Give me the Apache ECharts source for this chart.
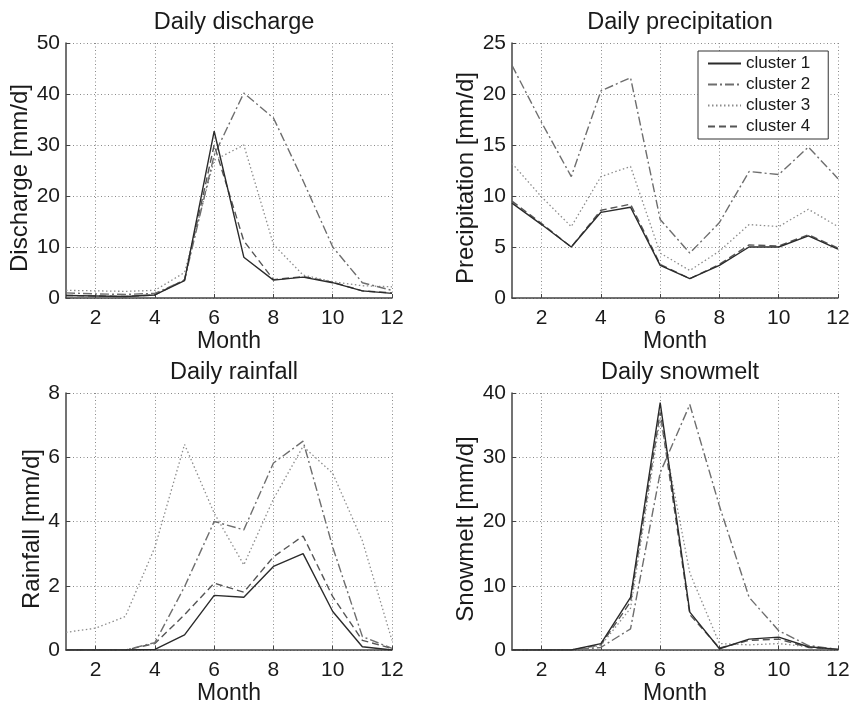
<!DOCTYPE html>
<html>
<head>
<meta charset="utf-8">
<script src="https://cdn.jsdelivr.net/npm/echarts@6/dist/echarts.min.js"></script>
<style>
html, body { margin: 0; padding: 0; background: #fff; }
#main { width: 853px; height: 709px; }
</style>
</head>
<body>
<div id="main"></div>
<script>
var months = ['1', '2', '3', '4', '5', '6', '7', '8', '9', '10', '11', '12'];
var clusterNames = ['cluster 1', 'cluster 2', 'cluster 3', 'cluster 4'];

// Daily discharge [mm/d]
var dischargeC1 = [0.5, 0.4, 0.3, 0.6, 3.4, 32.7, 8.0, 3.5, 4.1, 3.0, 1.4, 0.9];
var dischargeC2 = [1.0, 0.8, 0.7, 0.9, 3.5, 28.0, 40.2, 35.3, 23.0, 10.0, 3.0, 1.5];
var dischargeC3 = [1.5, 1.4, 1.3, 1.5, 5.0, 27.0, 30.0, 10.5, 4.5, 3.2, 2.4, 2.2];
var dischargeC4 = [0.5, 0.4, 0.3, 0.6, 3.6, 30.0, 11.2, 3.6, 4.2, 3.1, 1.4, 1.0];

// Daily precipitation [mm/d]
var precipC1 = [9.3, 7.2, 5.0, 8.4, 8.9, 3.2, 1.9, 3.2, 5.0, 5.0, 6.1, 4.8];
var precipC2 = [22.8, 17.2, 11.9, 20.3, 21.6, 7.7, 4.4, 7.4, 12.4, 12.1, 14.8, 11.7];
var precipC3 = [13.2, 9.9, 7.0, 11.9, 12.9, 4.4, 2.7, 4.6, 7.2, 7.0, 8.7, 7.0];
var precipC4 = [9.5, 7.3, 5.0, 8.6, 9.2, 3.3, 1.9, 3.3, 5.2, 5.1, 6.2, 4.9];

// Daily rainfall [mm/d]
var rainC1 = [0, 0, 0, 0.02, 0.47, 1.7, 1.64, 2.6, 3.0, 1.2, 0.1, 0];
var rainC2 = [0, 0, 0, 0.23, 1.97, 4.0, 3.74, 5.82, 6.5, 3.2, 0.42, 0.05];
var rainC3 = [0.55, 0.68, 1.04, 3.2, 6.4, 4.26, 2.65, 4.7, 6.34, 5.5, 3.4, 0.3];
var rainC4 = [0, 0, 0, 0.2, 1.1, 2.08, 1.8, 2.9, 3.55, 1.66, 0.3, 0.05];

// Daily snowmelt [mm/d]
var meltC1 = [0, 0, 0, 1.0, 8.2, 38.5, 5.9, 0.2, 1.7, 2.0, 0.5, 0.1];
var meltC2 = [0, 0, 0, 0.4, 3.3, 27.6, 38.2, 22.4, 8.2, 3.0, 0.7, 0.1];
var meltC3 = [0, 0, 0, 0.7, 6.5, 36.0, 12.0, 1.0, 0.8, 1.0, 0.5, 0.1];
var meltC4 = [0, 0, 0, 0.8, 7.5, 37.0, 5.5, 0.3, 1.5, 1.7, 0.4, 0.1];

var font = 'Liberation Sans, Arial, Helvetica, sans-serif';
var txt = '#1a1a1a';

// line look per cluster: solid, dash-dot, dotted, dashed
var lineStyles = [
	{ color: '#2b2b2b', width: 1.4, type: 'solid' },
	{ color: '#6e6e6e', width: 1.4, type: [9, 3, 2, 3] },
	{ color: '#8c8c8c', width: 1.3, type: [1.5, 2.5] },
	{ color: '#555555', width: 1.4, type: [7, 4] }
];

var panels = [
	{ title: 'Daily discharge', yName: 'Discharge [mm/d]', max: 50, step: 10, gap: 28,
		data: [dischargeC1, dischargeC2, dischargeC3, dischargeC4] },
	{ title: 'Daily precipitation', yName: 'Precipitation [mm/d]', max: 25, step: 5, gap: 29,
		data: [precipC1, precipC2, precipC3, precipC4] },
	{ title: 'Daily rainfall', yName: 'Rainfall [mm/d]', max: 8, step: 2, gap: 18,
		data: [rainC1, rainC2, rainC3, rainC4] },
	{ title: 'Daily snowmelt', yName: 'Snowmelt [mm/d]', max: 40, step: 10, gap: 28,
		data: [meltC1, meltC2, meltC3, meltC4] }
];

var grids = [
	{ left: 66, top: 43, width: 326, height: 255 },
	{ left: 512, top: 43, width: 326, height: 255 },
	{ left: 66, top: 393, width: 326, height: 257 },
	{ left: 512, top: 393, width: 326, height: 257 }
];

function evenMonth(idx) {
	return (idx + 1) % 2 === 0;
}

var gridLine = { show: true, lineStyle: { color: '#8a8a8a', width: 1, type: [1, 2.5] } };
var axisLine = { show: true, lineStyle: { color: '#444', width: 1.5 } };

var titles = [], xAxes = [], yAxes = [], series = [];
for (var p = 0; p < panels.length; p++) {
	var g = grids[p];
	titles.push({
		text: panels[p].title,
		left: g.left + g.width / 2,
		top: g.top - 37,
		textAlign: 'center',
		textStyle: { fontFamily: font, fontSize: 23.5, fontWeight: 'normal', color: txt }
	});
	xAxes.push({
		gridIndex: p,
		type: 'category',
		data: months,
		boundaryGap: false,
		name: 'Month',
		nameLocation: 'middle',
		nameGap: 32,
		nameTextStyle: { fontFamily: font, fontSize: 23, color: txt },
		axisLine: axisLine,
		axisTick: { show: true, inside: true, length: 4, interval: function (i) { return evenMonth(i); },
			lineStyle: { color: '#444' } },
		axisLabel: { interval: function (i) { return evenMonth(i); }, margin: 10,
			fontFamily: font, fontSize: 21, color: txt },
		splitLine: { show: true, interval: function (i) { return evenMonth(i); }, lineStyle: gridLine.lineStyle }
	});
	yAxes.push({
		gridIndex: p,
		type: 'value',
		min: 0,
		max: panels[p].max,
		interval: panels[p].step,
		name: panels[p].yName,
		nameLocation: 'middle',
		nameGap: panels[p].gap,
		nameTextStyle: { fontFamily: font, fontSize: 24, color: txt, padding: [0, 15, 0, 0] },
		axisLine: axisLine,
		axisTick: { show: true, inside: true, length: 4, lineStyle: { color: '#444' } },
		axisLabel: { margin: 6, fontFamily: font, fontSize: 21, color: txt },
		splitLine: gridLine
	});
	for (var c = 0; c < 4; c++) {
		series.push({
			name: clusterNames[c],
			type: 'line',
			xAxisIndex: p,
			yAxisIndex: p,
			data: panels[p].data[c],
			symbol: 'none',
			silent: true,
			animation: false,
			z: 10 - c,
			itemStyle: { color: lineStyles[c].color },
			lineStyle: lineStyles[c]
		});
	}
}

var myChart = echarts.init(document.getElementById('main'), null, { renderer: 'canvas' });
myChart.setOption({
	backgroundColor: '#ffffff',
	animation: false,
	title: titles,
	legend: {
		data: clusterNames,
		orient: 'vertical',
		left: 698,
		top: 51,
		padding: [4, 18, 4, 9],
		itemGap: 4,
		itemWidth: 33,
		itemHeight: 14,
		selectedMode: false,
		itemStyle: { opacity: 0 },
		backgroundColor: '#ffffff',
		borderColor: '#333',
		borderWidth: 1,
		textStyle: { fontFamily: font, fontSize: 17, color: txt }
	},
	grid: grids,
	xAxis: xAxes,
	yAxis: yAxes,
	series: series
});
</script>
</body>
</html>
